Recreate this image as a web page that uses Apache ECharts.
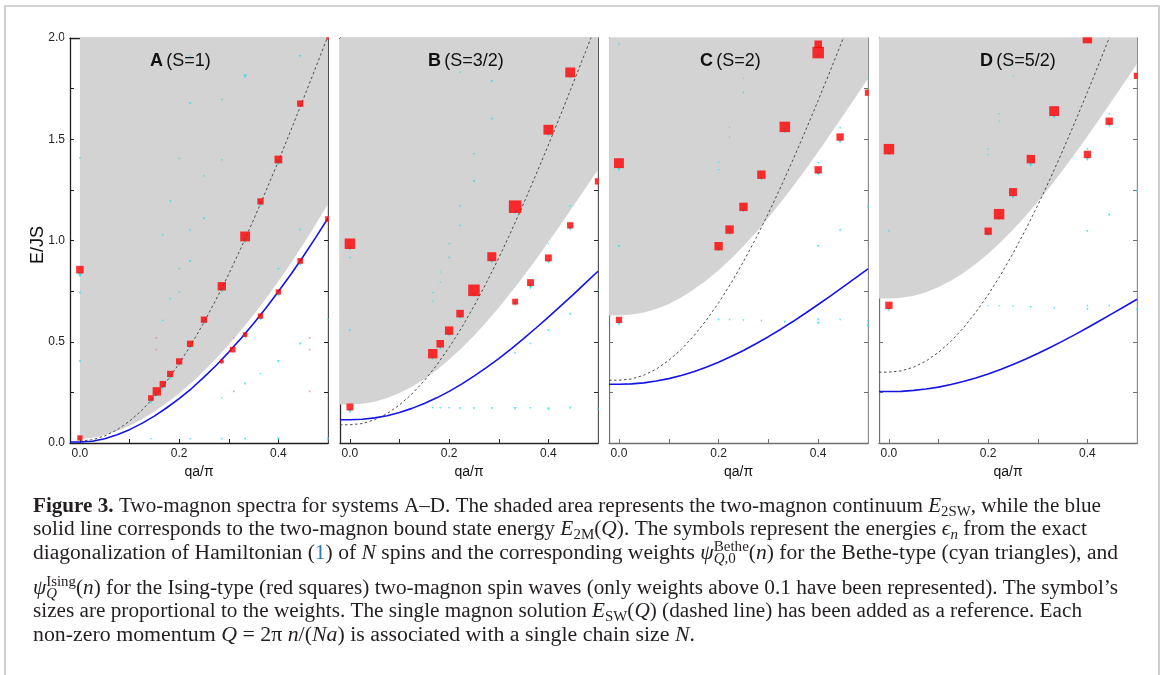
<!DOCTYPE html>
<html><head><meta charset="utf-8">
<script src="https://cdn.jsdelivr.net/npm/echarts@6/dist/echarts.min.js"></script>
<style>html,body{margin:0;padding:0;background:#fff}#c{width:1163px;height:675px}</style>
</head><body><div id="c"></div>
<script>
// ---------------- data ----------------
const panelNames = ['A', 'B', 'C', 'D'];
const spinLabels = ['(S=1)', '(S=3/2)', '(S=2)', '(S=5/2)'];
const xTickValues = [0, 0.1, 0.2, 0.3, 0.4, 0.5];
const xLabelValues = [0, 0.2, 0.4];
const yTickValues = [0, 0.25, 0.5, 0.75, 1, 1.25, 1.5, 1.75, 2];
const yLabelValues = [0, 0.5, 1, 1.5, 2];

const curveX = [-0.02, 0, 0.025, 0.05, 0.075, 0.1, 0.125, 0.15, 0.175, 0.2, 0.225, 0.25, 0.275, 0.3, 0.325, 0.35, 0.375, 0.4, 0.425, 0.45, 0.475, 0.5];

const blueA  = [0.005, 0.005, 0.009, 0.021, 0.041, 0.066, 0.097, 0.133, 0.174, 0.219, 0.269, 0.325, 0.384, 0.449, 0.517, 0.590, 0.667, 0.748, 0.832, 0.921, 1.014, 1.11];
const shadeA = [null, 0.02, 0.025, 0.039, 0.059, 0.085, 0.117, 0.155, 0.198, 0.246, 0.298, 0.356, 0.418, 0.486, 0.557, 0.633, 0.714, 0.799, 0.887, 0.981, 1.079, 1.18];
const dashA  = [null, 0.01, 0.016, 0.035, 0.065, 0.108, 0.162, 0.228, 0.305, 0.392, 0.489, 0.596, 0.711, 0.834, 0.965, 1.102, 1.245, 1.392, 1.543, 1.697, 1.853, 2.01];

const blueB  = [0.115, 0.115, 0.117, 0.124, 0.135, 0.151, 0.171, 0.195, 0.223, 0.255, 0.291, 0.330, 0.372, 0.417, 0.465, 0.515, 0.568, 0.622, 0.677, 0.733, 0.791, 0.848];
const shadeB = [0.19, 0.19, 0.194, 0.204, 0.222, 0.247, 0.278, 0.316, 0.361, 0.412, 0.468, 0.530, 0.597, 0.668, 0.744, 0.823, 0.906, 0.992, 1.079, 1.169, 1.259, 1.35];
const dashB  = [0.09, 0.09, 0.096, 0.115, 0.145, 0.188, 0.242, 0.308, 0.385, 0.472, 0.569, 0.676, 0.791, 0.914, 1.045, 1.182, 1.325, 1.472, 1.623, 1.777, 1.933, 2.09];

const blueC  = [0.29, 0.29, 0.292, 0.297, 0.306, 0.318, 0.333, 0.352, 0.374, 0.399, 0.427, 0.457, 0.49, 0.525, 0.562, 0.601, 0.642, 0.684, 0.727, 0.771, 0.815, 0.86];
const shadeC = [0.63, 0.63, 0.634, 0.644, 0.662, 0.687, 0.719, 0.758, 0.802, 0.853, 0.910, 0.973, 1.040, 1.112, 1.189, 1.269, 1.352, 1.438, 1.527, 1.617, 1.708, 1.80];
const dashC  = [0.31, 0.31, 0.316, 0.335, 0.365, 0.408, 0.462, 0.528, 0.605, 0.692, 0.789, 0.896, 1.011, 1.134, 1.265, 1.402, 1.545, 1.692, 1.843, 1.997, 2.153, 2.31];

const blueD  = [0.254, 0.254, 0.255, 0.26, 0.267, 0.276, 0.289, 0.304, 0.321, 0.341, 0.363, 0.388, 0.414, 0.442, 0.472, 0.503, 0.535, 0.569, 0.604, 0.639, 0.674, 0.71];
const shadeD = [0.713, 0.713, 0.717, 0.727, 0.745, 0.770, 0.801, 0.839, 0.884, 0.935, 0.991, 1.053, 1.120, 1.191, 1.267, 1.346, 1.429, 1.515, 1.602, 1.692, 1.782, 1.873];
const dashD  = [0.35, 0.35, 0.356, 0.375, 0.405, 0.448, 0.502, 0.568, 0.645, 0.732, 0.829, 0.936, 1.051, 1.174, 1.305, 1.442, 1.585, 1.732, 1.883, 2.037, 2.193, 2.35];

// Ising weights (red squares): [q, E, weight]
const redA = [[0,0.856,0.36],[0,0.025,0.25],[0.143,0.222,0.27],[0.155,0.255,0.4],[0.167,0.291,0.3],[0.182,0.341,0.3],[0.2,0.403,0.3],[0.222,0.49,0.3],[0.25,0.609,0.3],[0.286,0.774,0.4],[0.333,1.02,0.47],[0.364,1.193,0.3],[0.4,1.40,0.37],[0.444,1.676,0.3],[0.286,0.403,0.18],[0.308,0.461,0.27],[0.333,0.535,0.22],[0.364,0.627,0.25],[0.4,0.746,0.25],[0.444,0.899,0.27],[0.5,1.106,0.27],[0.5,2.0,0.15]];
const redFaintA = [[0.154,0.519,0.08],[0.154,0.461,0.08],[0.31,0.519,0.08],[0.31,0.255,0.08],[0.463,0.519,0.08],[0.463,0.461,0.08],[0.463,0.255,0.08]];
const redB = [[0,0.984,0.5],[0,0.178,0.33],[0.167,0.441,0.45],[0.182,0.49,0.36],[0.2,0.555,0.4],[0.222,0.639,0.36],[0.25,0.754,0.55],[0.286,0.92,0.43],[0.333,1.167,0.6],[0.4,1.547,0.47],[0.444,1.83,0.47],[0.333,0.698,0.28],[0.364,0.792,0.33],[0.4,0.914,0.33],[0.444,1.075,0.3],[0.5,1.292,0.3]];
const redC = [[0,1.382,0.47],[0,0.608,0.3],[0.2,0.972,0.4],[0.222,1.054,0.4],[0.25,1.166,0.4],[0.286,1.325,0.4],[0.333,1.561,0.5],[0.4,1.928,0.55],[0.4,1.969,0.36],[0.4,1.349,0.35],[0.444,1.511,0.35],[0.5,1.73,0.3]];
const redD = [[0,1.451,0.5],[0,0.68,0.35],[0.2,1.046,0.35],[0.222,1.13,0.5],[0.25,1.239,0.38],[0.286,1.402,0.4],[0.333,1.639,0.47],[0.4,1.997,0.45],[0.4,1.425,0.35],[0.444,1.589,0.35],[0.5,1.813,0.3]];

// Bethe weights (cyan triangles): [q, E, weight]
const cyanA = [[0,0.83,0.25],[0.143,0.205,0.25],[0.155,0.24,0.25],[0.167,0.275,0.25],[0.182,0.325,0.25],[0.2,0.39,0.2],[0.222,0.475,0.2],[0.25,0.595,0.2],[0.286,0.755,0.28],[0.333,1.0,0.28],[0.364,1.18,0.25],[0.4,1.385,0.28],[0.286,0.395,0.15],[0.333,0.525,0.2],[0.364,0.615,0.22],[0.4,0.735,0.22],[0.444,0.885,0.22],
  [0.222,1.906,0.12],[0.333,1.81,0.18],[0.444,1.91,0.12],[0.222,1.676,0.12],[0.286,1.695,0.1],[0,1.407,0.1],[0.2,1.404,0.1],[0.286,1.396,0.1],[0.25,1.317,0.1],[0.182,1.193,0.1],[0.222,1.05,0.1],[0.167,1.026,0.1],[0.25,1.108,0.12],[0.222,0.897,0.12],[0.2,0.859,0.1],[0.4,0.859,0.1],[0,0.741,0.12],[0.2,0.744,0.1],[0.182,0.711,0.1],[0.167,0.604,0.1],[0.444,1.053,0.1],[0.5,0.609,0.1],[0.444,0.49,0.13],[0.4,0.403,0.13],[0.364,0.341,0.1],[0.333,0.291,0.12],[0.286,0.222,0.1],[0,0.403,0.12],
  [0,0.02,0.2],[0.143,0.02,0.1],[0.222,0.02,0.1],[0.286,0.02,0.12],[0.333,0.02,0.12],[0.4,0.02,0.13],[0.5,0.02,0.12]];
const cyanB = [[0,0.96,0.2],[0,0.156,0.2],[0.167,0.42,0.2],[0.182,0.47,0.2],[0.2,0.535,0.2],[0.222,0.62,0.2],[0.25,0.73,0.2],[0.286,0.897,0.2],[0.333,1.14,0.2],[0.4,1.523,0.2],[0.444,1.81,0.2],[0.333,0.686,0.2],[0.364,0.769,0.2],[0.4,0.895,0.2],[0.444,1.058,0.2],
  [0.167,0.173,0.1],[0.182,0.173,0.1],[0.2,0.173,0.1],[0.222,0.17,0.12],[0.25,0.17,0.12],[0.286,0.17,0.12],[0.333,0.17,0.14],[0.364,0.173,0.1],[0.4,0.168,0.14],[0.444,0.173,0.12],[0.5,0.168,0.12],
  [0,0.555,0.12],[0,0.914,0.1],[0.222,1.83,0.1],[0.286,1.786,0.12],[0.286,1.6,0.12],[0.25,1.427,0.1],[0.25,1.292,0.12],[0.222,1.169,0.1],[0.222,1.073,0.1],[0.2,0.983,0.1],[0.2,0.914,0.1],[0.182,0.843,0.08],[0.182,0.793,0.08],[0.167,0.741,0.08],[0.167,0.70,0.08],[0.4,0.983,0.08],[0.444,1.169,0.1],[0.5,0.754,0.1],[0.444,0.637,0.12],[0.4,0.555,0.12],[0.364,0.49,0.1],[0.333,0.444,0.1]];
const cyanC = [[0,1.352,0.2],[0,0.59,0.2],[0.2,0.955,0.2],[0.222,1.035,0.2],[0.25,1.148,0.2],[0.286,1.305,0.2],[0.333,1.54,0.2],[0.4,1.91,0.2],[0.4,1.33,0.2],[0.444,1.49,0.2],
  [0.2,0.608,0.1],[0.222,0.608,0.1],[0.25,0.606,0.1],[0.286,0.603,0.1],[0.333,0.598,0.12],[0.4,0.608,0.12],[0.4,0.592,0.14],[0.444,0.608,0.1],[0.5,0.603,0.12],[0.5,0.58,0.14],
  [0,0.972,0.12],[0.25,1.8,0.08],[0.25,1.73,0.1],[0.222,1.557,0.08],[0.222,1.508,0.08],[0.2,1.385,0.08],[0.2,1.349,0.08],[0.4,1.382,0.1],[0.444,1.556,0.1],[0.5,1.8,0.1],[0.5,1.166,0.12],[0.444,1.051,0.12],[0.4,0.972,0.12],[0,1.969,0.1]];
const cyanD = [[0,1.43,0.2],[0,0.66,0.2],[0.2,1.03,0.2],[0.222,1.11,0.2],[0.25,1.215,0.2],[0.286,1.374,0.2],[0.333,1.611,0.2],[0.4,1.403,0.2],[0.444,1.57,0.2],
  [0.2,0.677,0.08],[0.222,0.677,0.08],[0.25,0.674,0.1],[0.286,0.671,0.1],[0.333,0.667,0.1],[0.4,0.677,0.1],[0.4,0.661,0.12],[0.444,0.677,0.1],[0.5,0.658,0.12],
  [0,1.046,0.1],[0.25,1.866,0.08],[0.25,1.811,0.08],[0.222,1.625,0.08],[0.222,1.587,0.08],[0.2,1.451,0.08],[0.2,1.423,0.08],[0.4,1.451,0.1],[0.444,1.623,0.1],[0.444,1.126,0.12],[0.4,1.046,0.12],[0.5,1.243,0.1]];

// ---------------- layout / style ----------------
const SANS = '"Liberation Sans", Arial, sans-serif';
const SERIF = '"Liberation Serif", "Times New Roman", serif';
const gridLeft = [70, 340, 609, 879];
const gridWidth = [258, 258, 259, 258];
const gridTop = 38, gridHeight = 405;
const frameColor = ['#1e1e1e', '#2a2a2a', '#707070', '#707070'];
const titleX = [150, 428, 700, 980];
const SIZE_SCALE = 21;

const panels = [
  {blue: blueA, shade: shadeA, dash: dashA, red: redA, cyan: cyanA, faint: redFaintA},
  {blue: blueB, shade: shadeB, dash: dashB, red: redB, cyan: cyanB},
  {blue: blueC, shade: shadeC, dash: dashC, red: redC, cyan: cyanC},
  {blue: blueD, shade: shadeD, dash: dashD, red: redD, cyan: cyanD}
];

function pairs(ys) {
  const out = [];
  curveX.forEach((x, k) => { if (ys[k] !== null) out.push([x, ys[k]]); });
  return out;
}

const grid = [], xAxis = [], yAxis = [], series = [];
panels.forEach((p, i) => {
  grid.push({left: gridLeft[i], top: gridTop, width: gridWidth[i], height: gridHeight, show: false, containLabel: false});
  const line = {show: true, onZero: false, lineStyle: {color: frameColor[i], width: 1.3}};
  const tick = (vals) => ({show: true, inside: true, length: 4, customValues: vals, lineStyle: {color: frameColor[i], width: 1}});
  xAxis.push({gridIndex: i, type: 'value', min: -0.02, max: 0.5, position: 'bottom',
    axisLine: line, axisTick: tick(xTickValues), splitLine: {show: false},
    axisLabel: {show: true, customValues: xLabelValues, formatter: v => v.toFixed(1), fontSize: 12, color: '#222', margin: 5, fontFamily: SANS},
    name: 'qa/π', nameLocation: 'middle', nameGap: 17,
    nameTextStyle: {fontSize: 14, color: '#111', fontFamily: SANS}});
  xAxis.push({gridIndex: i, type: 'value', min: -0.02, max: 0.5, position: 'top',
    axisLine: line, axisTick: tick(xTickValues), splitLine: {show: false}, axisLabel: {show: false}});
  yAxis.push({gridIndex: i, type: 'value', min: 0, max: 2, position: 'left',
    axisLine: line, axisTick: tick(yTickValues), splitLine: {show: false},
    axisLabel: {show: i === 0, customValues: yLabelValues, formatter: v => v.toFixed(1), fontSize: 12, color: '#222', margin: 5, fontFamily: SANS}});
  yAxis.push({gridIndex: i, type: 'value', min: 0, max: 2, position: 'right',
    axisLine: line, axisTick: tick(yTickValues), splitLine: {show: false}, axisLabel: {show: false}});

  const ax = {xAxisIndex: 2 * i, yAxisIndex: 2 * i};
  series.push(Object.assign({type: 'line', data: pairs(p.shade), symbol: 'none', silent: true, z: 1,
    lineStyle: {width: 0, opacity: 0}, areaStyle: {color: '#d3d3d3', opacity: 1, origin: 'end'}}, ax));
  series.push(Object.assign({type: 'line', data: pairs(p.dash), symbol: 'none', silent: true, z: 2,
    lineStyle: {color: '#3a3a3a', width: 0.9, type: [2.5, 2.5]}}, ax));
  series.push(Object.assign({type: 'line', data: pairs(p.blue), symbol: 'none', silent: true, z: 3,
    lineStyle: {color: '#1414e6', width: 1.6}}, ax));
  series.push(Object.assign({type: 'scatter', data: p.cyan, symbol: 'triangle', symbolRotate: 180, silent: true, z: 4,
    symbolSize: d => d[2] * SIZE_SCALE, itemStyle: {color: '#1fe0ea'}}, ax));
  if (p.faint) series.push(Object.assign({type: 'scatter', data: p.faint, symbol: 'rect', silent: true, z: 4,
    symbolSize: d => d[2] * SIZE_SCALE, itemStyle: {color: '#f08a8a'}}, ax));
  series.push(Object.assign({type: 'scatter', data: p.red, symbol: 'rect', silent: true, z: 5,
    symbolSize: d => d[2] * SIZE_SCALE, itemStyle: {color: '#ff0000'}}, ax));
});

// ---------------- graphics: frame, covers, titles, caption ----------------
const graphics = [];
graphics.push({type: 'rect', shape: {x: 5, y: 6, width: 1154, height: 700}, style: {fill: 'none', stroke: '#c4c4c4', lineWidth: 1.6}, z: 0, silent: true});
graphics.push({type: 'text', x: 38, y: 245, rotation: Math.PI / 2, z: 60, silent: true,
  style: {text: 'E/JS', font: '18px ' + SANS, fill: '#111', textAlign: 'center', align: 'center', textVerticalAlign: 'middle', verticalAlign: 'middle'}});
gridLeft.forEach((L, i) => {
  const R = L + gridWidth[i];
  graphics.push({type: 'rect', shape: {x: R + 0.8, y: 20, width: 10, height: gridHeight + 18}, style: {fill: '#fff'}, z: 50, silent: true});
  graphics.push({type: 'rect', shape: {x: L - 6, y: 18, width: gridWidth[i] + 12, height: gridTop - 18 - 0.8}, style: {fill: '#fff'}, z: 50, silent: true});
  graphics.push({type: 'text', x: titleX[i], y: 61, z: 60, silent: true,
    style: {text: '{b|' + panelNames[i] + '} {n|' + spinLabels[i] + '}', textVerticalAlign: 'middle', verticalAlign: 'middle',
      rich: {b: {fontWeight: 'bold', fontSize: 18, fontFamily: SANS, fill: '#111'}, n: {fontSize: 18, fontFamily: SANS, fill: '#111'}}}});
});

const captionLines = [
  [['Figure 3.', 'b'], [' Two-magnon spectra for systems A–D. The shaded area represents the two-magnon continuum ', 'r'], ['E', 'i'], ['2SW', 'sr'], [', while the blue', 'r']],
  [['solid line corresponds to the two-magnon bound state energy ', 'r'], ['E', 'i'], ['2M', 'sr'], ['(', 'r'], ['Q', 'i'], ['). The symbols represent the energies ', 'r'], ['ϵ', 'i'], ['n', 'si'], [' from the exact', 'r']],
  [['diagonalization of Hamiltonian (', 'r'], ['1', 'link'], [') of ', 'r'], ['N', 'i'], [' spins and the corresponding weights ', 'r'], ['ψ', 'i'], {sup: [['Bethe', 'pr']], sub: [['Q', 'si'], [',0', 'sr']]}, ['(', 'r'], ['n', 'i'], [') for the Bethe-type (cyan triangles), and', 'r']],
  [['ψ', 'i'], {sup: [['Ising', 'pr']], sub: [['Q', 'si']]}, ['(', 'r'], ['n', 'i'], [') for the Ising-type (red squares) two-magnon spin waves (only weights above 0.1 have been represented). The symbol’s', 'r']],
  [['sizes are proportional to the weights. The single magnon solution ', 'r'], ['E', 'i'], ['SW', 'sr'], ['(', 'r'], ['Q', 'i'], [') (dashed line) has been added as a reference. Each', 'r']],
  [['non-zero momentum ', 'r'], ['Q', 'i'], [' = 2π ', 'r'], ['n', 'i'], ['/(', 'r'], ['Na', 'i'], [') is associated with a single chain size ', 'r'], ['N', 'i'], ['.', 'r']]
];
const captionBaselines = [513, 536, 560, 595, 618, 642];
const captionRightEnds = [1101, 1087, 1118, 1118, 1082, 695];
const captionLeft = 33;
const fs = 20.5;

const ctx = document.createElement('canvas').getContext('2d');
function fontFor(kind) {
  const small = fs * 0.7;
  switch (kind) {
    case 'b': return 'bold ' + fs + 'px ' + SERIF;
    case 'i': return 'italic ' + fs + 'px ' + SERIF;
    case 'sr': case 'pr': return small + 'px ' + SERIF;
    case 'si': return 'italic ' + small + 'px ' + SERIF;
    default: return fs + 'px ' + SERIF;
  }
}
function dyFor(kind) {
  if (kind === 'sr' || kind === 'si') return fs * 0.17;
  if (kind === 'pr') return -fs * 0.42;
  return 0;
}
function measure(t, kind) { ctx.font = fontFor(kind); return ctx.measureText(t).width; }

function textEl(t, kind, x, base) {
  const size = (kind === 'sr' || kind === 'si' || kind === 'pr') ? fs * 0.7 : fs;
  return {type: 'text', x: x, y: base - size * 0.3 + dyFor(kind), silent: true,
    style: {text: t, font: fontFor(kind), fill: kind === 'link' ? '#2a7ab8' : '#231f20',
      textVerticalAlign: 'middle', verticalAlign: 'middle', textAlign: 'left', align: 'left'}};
}
captionLines.forEach((segs, li) => {
  let x = captionLeft;
  const base = captionBaselines[li];
  const children = [];
  segs.forEach(s => {
    if (Array.isArray(s)) { children.push(textEl(s[0], s[1], x, base)); x += measure(s[0], s[1]); }
    else {
      let xa = x, xb = x;
      s.sup.forEach(q => { children.push(textEl(q[0], q[1], xa, base)); xa += measure(q[0], q[1]); });
      s.sub.forEach(q => { children.push(textEl(q[0], q[1], xb, base)); xb += measure(q[0], q[1]); });
      x = Math.max(xa, xb);
    }
  });
  const sx = (captionRightEnds[li] - captionLeft) / (x - captionLeft);
  graphics.push({type: 'group', x: captionLeft, y: 0, scaleX: sx, z: 60, silent: true,
    children: children.map(c => Object.assign(c, {x: c.x - captionLeft}))});
});

const chart = echarts.init(document.getElementById('c'), null, {renderer: 'canvas'});
chart.setOption({
  animation: false,
  backgroundColor: '#fff',
  grid: grid, xAxis: xAxis, yAxis: yAxis, series: series,
  graphic: {elements: graphics}
});
</script></body></html>
